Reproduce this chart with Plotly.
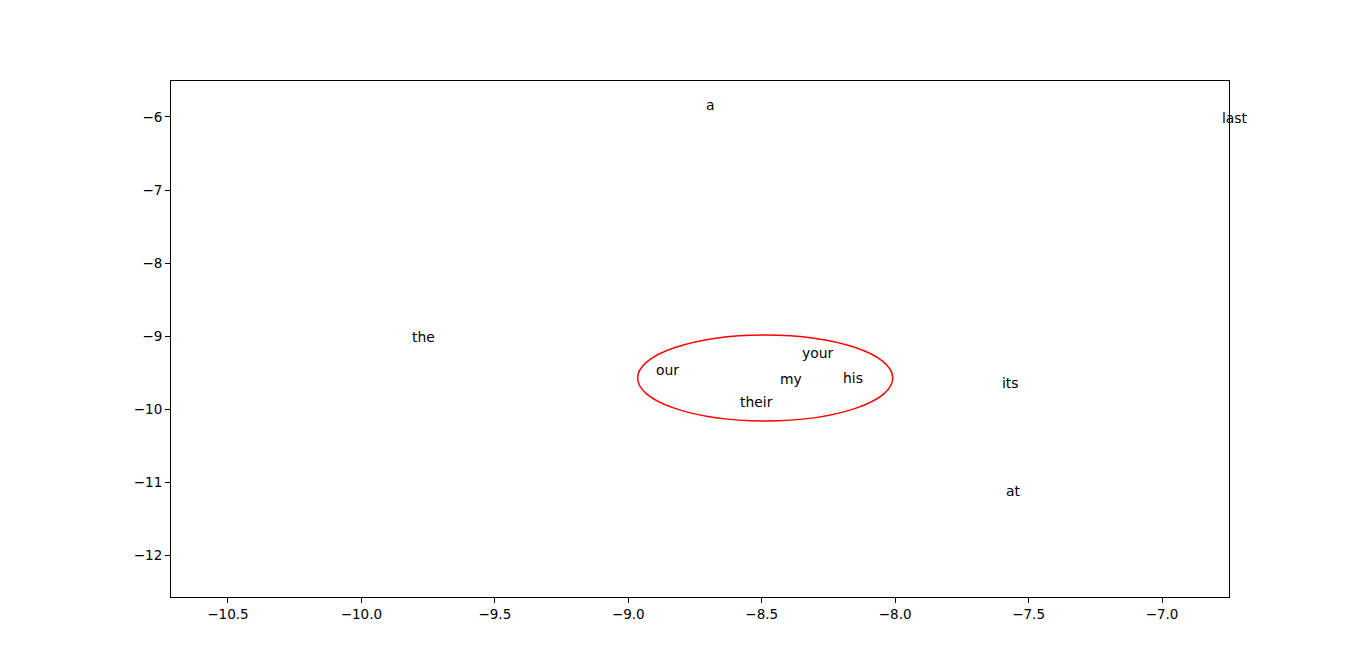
import plotly.graph_objects as go

words = ["a", "last", "the", "your", "our", "my", "his", "its", "their", "at"]
word_x = [-8.712, -6.779, -9.813, -8.352, -8.899, -8.435, -8.199, -7.603, -8.584, -7.588]
word_y = [-5.836, -6.014, -9.014, -9.233, -9.466, -9.589, -9.575, -9.644, -9.904, -11.123]

ellipse_center = (-8.487, -9.575)
ellipse_semi = (0.478, 0.589)

x_range = [-10.7135, -6.749]
y_range = [-12.575, -5.507]
x_ticks = [-10.5, -10.0, -9.5, -9.0, -8.5, -8.0, -7.5, -7.0]
y_ticks = [-6, -7, -8, -9, -10, -11, -12]

fig = go.Figure()
fig.add_trace(go.Scatter(x=word_x, y=word_y, mode="markers",
                         marker=dict(size=1, opacity=0),
                         hoverinfo="skip", showlegend=False))

for w, x, y in zip(words, word_x, word_y):
    fig.add_annotation(x=x, y=y, xref="x", yref="y", text=w, showarrow=False,
                       xanchor="left", yanchor="middle", borderpad=0,
                       font=dict(family="DejaVu Sans", size=13.9, color="black"))

cx, cy = ellipse_center
ax_, ay_ = ellipse_semi
fig.add_shape(type="circle", xref="x", yref="y",
              x0=cx - ax_, x1=cx + ax_, y0=cy - ay_, y1=cy + ay_,
              line=dict(color="red", width=1.5))

axis_common = dict(showgrid=False, zeroline=False, showline=True, linecolor="black",
                   linewidth=1, mirror=True, ticks="outside", ticklen=5, tickwidth=1,
                   tickcolor="black", tickfont=dict(family="DejaVu Sans", size=13.5, color="black"))
fig.update_xaxes(range=x_range, tickvals=x_ticks, tickformat=".1f", **axis_common)
fig.update_yaxes(range=y_range, tickvals=y_ticks, **axis_common)

fig.update_layout(width=1366, height=671, margin=dict(l=163, r=145, t=73, b=82),
                  paper_bgcolor="white", plot_bgcolor="white",
                  font=dict(family="DejaVu Sans"))

fig.write_html("out.html")
